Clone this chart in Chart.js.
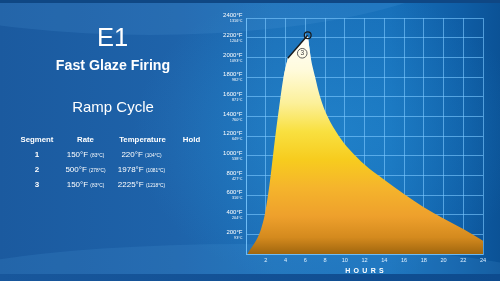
<!DOCTYPE html>
<html><head><meta charset="utf-8">
<script src="https://cdn.jsdelivr.net/npm/chart.js@4/dist/chart.umd.min.js"></script>
<style>
html,body{margin:0;padding:0;width:500px;height:281px;overflow:hidden;background:#1c62a8;}
#wrap{position:relative;width:500px;height:281px;overflow:hidden;
 background:
  radial-gradient(ellipse 55% 75% at 66% 48%, rgba(45,160,230,0.35), rgba(45,160,230,0) 72%),
  linear-gradient(90deg,#1b5a9f 0%,#1e63aa 35%,#1c6fb7 55%,#176fb9 78%,#0f5ea6 92%,#0b5296 100%);}
.sw{position:absolute;border-radius:50%;}
#topband{position:absolute;left:0;top:0;width:500px;height:3px;background:#0f4784;}
#botband{position:absolute;left:0;top:274px;width:500px;height:7px;background:linear-gradient(90deg,#18579c,#0d4b8e);}
canvas{position:absolute;left:0;top:0;}
.t{position:absolute;color:#fff;font-family:"Liberation Sans",Arial,sans-serif;white-space:nowrap;transform:translateX(-50%);line-height:1;}
.s{font-size:4.8px;}
</style></head>
<body><div id="wrap">
<div class="sw" style="left:-180px;top:-140px;width:660px;height:175px;background:rgba(90,160,225,0.16);"></div>
<div class="sw" style="left:-120px;top:244px;width:720px;height:120px;background:rgba(80,160,225,0.16);"></div>
<div id="topband"></div><div id="botband"></div>
<canvas id="c" width="500" height="281"></canvas>
<div class="t" style="left:112.5px;top:25px;font-size:25.5px;">E1</div>
<div class="t" style="left:113px;top:57.5px;font-size:14.2px;font-weight:bold;">Fast Glaze Firing</div>
<div class="t" style="left:113px;top:98.5px;font-size:15px;">Ramp Cycle</div>
<div id="table"></div>
</div>
<script>
// ---- data ----
const riseHours = [0.15,1.33,1.57,1.9,2.23,2.5,2.73,2.97,3.23,3.5,3.8,4.23];
const riseTemps = [0,200,270,400,600,800,1000,1200,1400,1600,1800,1990];
const seg3Hours = [4.23,6.25];
const seg3Temps = [1990,2225];
const fallHours = [6.25,6.55,7.0,7.5,8.25,9.4,10.5,12,14,16,18,20,22,24];
const fallTemps = [2225,2000,1800,1600,1400,1200,1060,910,755,610,475,360,255,135];
const seg3Label = '3';
const yTicksF = [200,400,600,800,1000,1200,1400,1600,1800,2000,2200,2400];
const yTicksC = [93,204,316,427,538,649,760,871,982,1093,1204,1316];
const xTicks = [2,4,6,8,10,12,14,16,18,20,22,24];
const xTitle = 'HOURS';
const headers = ['Segment','Rate','Temperature','Hold'];
const segments = [1,2,3];
const ratesF = [150,500,150];
const ratesC = [83,278,83];
const tempsF = [220,1978,2225];
const tempsC = [104,1081,1218];

// ---- table (HTML text) ----
const colX = [37,85.5,142.5,191.5];
let html = '';
headers.forEach((h,i)=>{ html += `<div class="t" style="left:${colX[i]}px;top:136.3px;font-size:7.8px;font-weight:bold;">${h}</div>`; });
segments.forEach((s,r)=>{
  const top = 151.2 + r*14.7;
  html += `<div class="t" style="left:${colX[0]}px;top:${top}px;font-size:8px;font-weight:bold;">${s}</div>`;
  html += `<div class="t" style="left:${colX[1]}px;top:${top}px;font-size:8px;">${ratesF[r]}°F <span class="s">(${ratesC[r]}°C)</span></div>`;
  html += `<div class="t" style="left:${colX[2]-1}px;top:${top}px;font-size:8px;">${tempsF[r]}°F <span class="s">(${tempsC[r]}°C)</span></div>`;
});
document.getElementById('table').innerHTML = html;

// ---- chart ----
const FONT = '"Liberation Sans", Arial, sans-serif';
function fillGradient(context){
  const chart = context.chart; const a = chart.chartArea;
  if(!a) return '#f5b82a';
  const g = chart.ctx.createLinearGradient(0,a.top,0,a.bottom);
  g.addColorStop(0.00,'#ffffff');
  g.addColorStop(0.10,'#fffef6');
  g.addColorStop(0.22,'#fffbdc');
  g.addColorStop(0.36,'#fcf09a');
  g.addColorStop(0.48,'#f9e040');
  g.addColorStop(0.60,'#f7cc1e');
  g.addColorStop(0.72,'#f5b42c');
  g.addColorStop(0.84,'#eea02c');
  g.addColorStop(0.93,'#d48a1e');
  g.addColorStop(1.00,'#a0660e');
  return g;
}
const pts = (hs,ts)=>hs.map((h,i)=>({x:h,y:ts[i]}));
const n = riseHours.length;
// straight stretch of the fill under segment 3, overlapping neighbours so no seams show
const capPts = [
  {x:riseHours[n-2],y:riseTemps[n-2]},
  ...pts(seg3Hours,seg3Temps),
  {x:fallHours[1],y:fallTemps[1]}
];
const fillDs = (data,mode)=>({data, borderWidth:0, borderColor:'rgba(0,0,0,0)', pointRadius:0,
  fill:'origin', backgroundColor:fillGradient, tension: mode?0.4:0,
  cubicInterpolationMode: mode||'default', order:1});

const overlay = {
  id:'overlay',
  afterDraw(chart){
    const {ctx, scales:{x,y}} = chart;
    ctx.save();
    ctx.fillStyle = '#ffffff';
    ctx.textAlign = 'right';
    yTicksF.forEach((v,i)=>{
      const py = y.getPixelForValue(v);
      ctx.font = '6px '+FONT;
      ctx.fillText(v+'°F', x.left-3.5, py-0.8);
      ctx.font = '3.8px '+FONT;
      ctx.fillText(yTicksC[i]+'°C', x.left-3.5, py+4.3);
    });
    ctx.textAlign = 'center';
    ctx.fillStyle = '#dcefff';
    ctx.font = '5.6px '+FONT;
    xTicks.forEach(v=>{ ctx.fillText(String(v), x.getPixelForValue(v), y.bottom+7.5); });
    ctx.font = 'bold 7px '+FONT;
    ctx.fillStyle = '#ffffff';
    ctx.textAlign = 'left';
    const sp = 3.3;
    const chars = xTitle.split('');
    const w = chars.reduce((s,c)=>s+ctx.measureText(c).width,0) + sp*(chars.length-1);
    let cx = (x.left+x.right)/2 - w/2;
    chars.forEach(c=>{ ctx.fillText(c, cx, y.bottom+18.5); cx += ctx.measureText(c).width + sp; });
    const mx = (x.getPixelForValue(seg3Hours[0])+x.getPixelForValue(seg3Hours[1]))/2 + 4.5;
    const my = (y.getPixelForValue(seg3Temps[0])+y.getPixelForValue(seg3Temps[1]))/2 + 6.5;
    ctx.beginPath(); ctx.arc(mx,my,4.8,0,Math.PI*2);
    ctx.lineWidth = 0.9; ctx.strokeStyle = '#4a4a4a'; ctx.stroke();
    ctx.fillStyle = '#3a3a3a'; ctx.textAlign='center'; ctx.textBaseline='middle';
    ctx.font = '6.5px '+FONT;
    ctx.fillText(seg3Label, mx, my+0.3);
    ctx.restore();
  }
};
const gridCol = 'rgba(125,200,255,0.62)';
new Chart(document.getElementById('c'), {
  type:'line',
  data:{datasets:[
    {data: pts(seg3Hours,seg3Temps), borderColor:'#1a1a1a', borderWidth:1.4,
     pointRadius:[0,3.4], pointBorderColor:'#1a1a1a', pointBackgroundColor:'rgba(0,0,0,0)', pointBorderWidth:1.2,
     fill:false, tension:0, order:0},
    fillDs(pts(riseHours,riseTemps),'monotone'),
    fillDs(capPts,null),
    fillDs(pts(fallHours,fallTemps),'monotone')
  ]},
  options:{
    responsive:false, animation:false, devicePixelRatio:1,
    layout:{padding:{left:246,right:17,top:18,bottom:27}},
    plugins:{legend:{display:false}, tooltip:{enabled:false}},
    scales:{
      x:{type:'linear', min:0, max:24, ticks:{display:false, stepSize:2},
         grid:{color:gridCol, lineWidth:1, drawTicks:false}, border:{color:gridCol, width:1}},
      y:{min:0, max:2400, ticks:{display:false, stepSize:200},
         grid:{color:gridCol, lineWidth:1, drawTicks:false}, border:{color:gridCol, width:1}}
    }
  },
  plugins:[overlay]
});
</script>
</body></html>
